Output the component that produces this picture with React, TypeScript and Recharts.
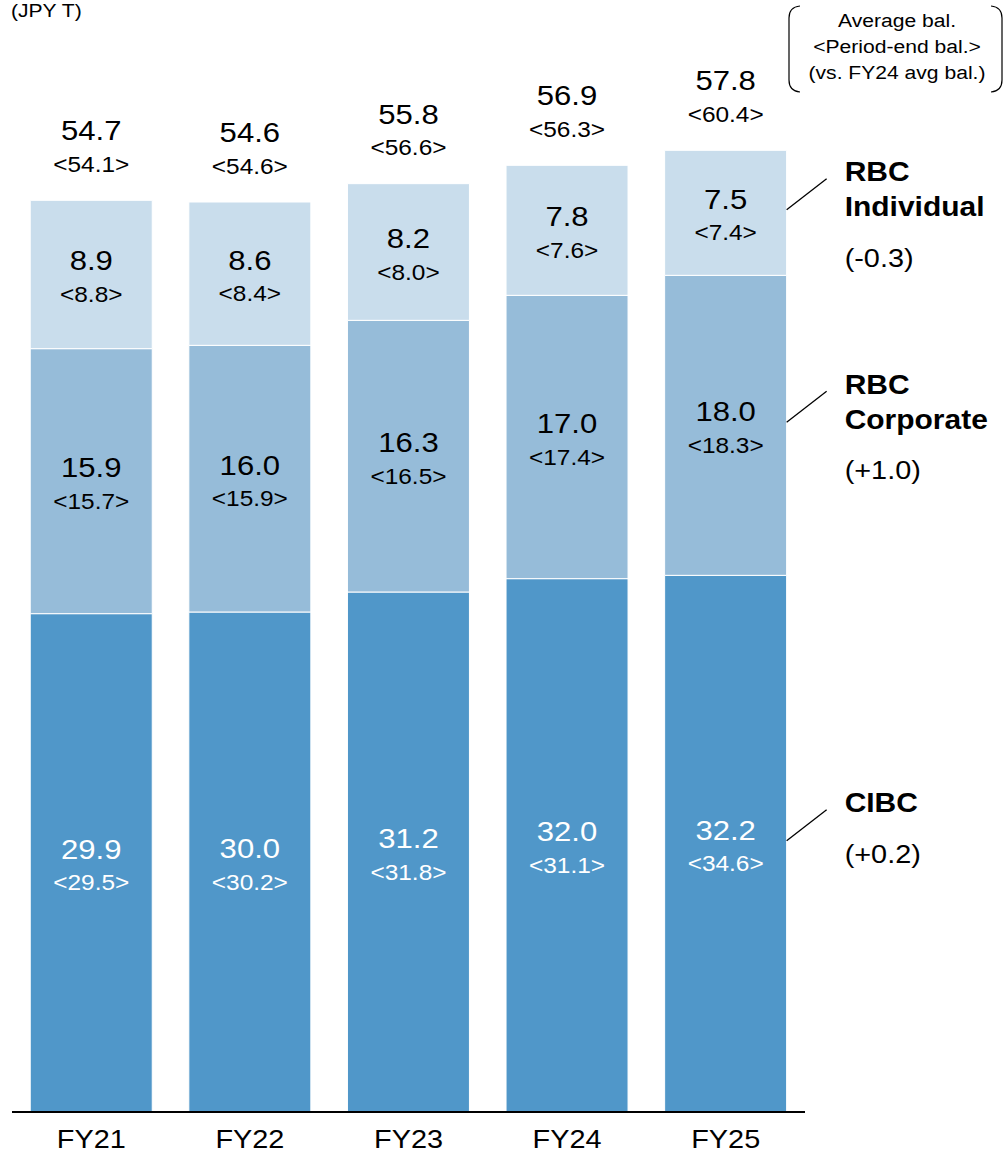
import React from 'react';
import { BarChart, Bar, XAxis, YAxis, LabelList } from 'recharts';

const categories = ['FY21', 'FY22', 'FY23', 'FY24', 'FY25'];
const cibcAvg = [29.9, 30.0, 31.2, 32.0, 32.2];
const cibcEnd = [29.5, 30.2, 31.8, 31.1, 34.6];
const corpAvg = [15.9, 16.0, 16.3, 17.0, 18.0];
const corpEnd = [15.7, 15.9, 16.5, 17.4, 18.3];
const indAvg = [8.9, 8.6, 8.2, 7.8, 7.5];
const indEnd = [8.8, 8.4, 8.0, 7.6, 7.4];
const totalAvg = [54.7, 54.6, 55.8, 56.9, 57.8];
const totalEnd = [54.1, 54.6, 56.6, 56.3, 60.4];
const seriesNames = { cibc: ['CIBC'], corp: ['RBC', 'Corporate'], ind: ['RBC', 'Individual'] };
const seriesChange = { cibc: '(+0.2)', corp: '(+1.0)', ind: '(-0.3)' };
const unitLabel = '(JPY T)';
const boxLines = ['Average bal.', '<Period-end bal.>', '(vs. FY24 avg bal.)'];

const data = categories.map((c, i) => ({
  name: c,
  cibc: cibcAvg[i],
  corp: corpAvg[i],
  ind: indAvg[i],
  total: totalAvg[i],
}));

const FONT = '"Liberation Sans", Arial, sans-serif';
const COLORS = { cibc: '#5097C9', corp: '#96BCD9', ind: '#C9DDEC' };
const LAST = categories.length - 1;
const SX = 1.11;

const T = (p: any) => {
  const { x, y, size, color = '#000', anchor = 'middle', bold = false, children } = p;
  return (
    <text
      transform={`translate(${x} ${y}) scale(${SX} 1)`}
      x={0}
      y={0}
      textAnchor={anchor}
      dominantBaseline="central"
      fontSize={size}
      fontWeight={bold ? 'bold' : 'normal'}
      fill={color}
      fontFamily={FONT}
    >
      {children}
    </text>
  );
};

const segLabel = (ends: number[], color: string) => (props: any) => {
  const { x, y, width, height, value, index } = props;
  const cx = Number(x) + Number(width) / 2;
  const cy = Number(y) + Number(height) / 2;
  return (
    <g>
      <T x={cx} y={cy - 14} size={28} color={color}>{Number(value).toFixed(1)}</T>
      <T x={cx} y={cy + 20} size={22} color={color}>{`<${ends[index].toFixed(1)}>`}</T>
    </g>
  );
};

const totalLabel = (props: any) => {
  const { x, y, width, value, index } = props;
  const cx = Number(x) + Number(width) / 2;
  const top = Number(y);
  return (
    <g>
      <T x={cx} y={top - 70} size={28}>{Number(value).toFixed(1)}</T>
      <T x={cx} y={top - 36} size={22}>{`<${totalEnd[index].toFixed(1)}>`}</T>
    </g>
  );
};

const seriesAnno = (key: 'cibc' | 'corp' | 'ind') => (props: any) => {
  const { x, y, width, height, index } = props;
  if (index !== LAST) return null;
  const x0 = Number(x) + Number(width);
  const y0 = Number(y) + Number(height) / 2 - 3;
  const x1 = x0 + 40;
  const y1 = y0 - 31;
  const tx = x1 + 18;
  const names = seriesNames[key];
  return (
    <g>
      <line x1={x0} y1={y0} x2={x1} y2={y1} stroke="#000" strokeWidth={1.3} />
      {names.map((n, i) => (
        <T key={i} x={tx} y={y1 - 7 + i * 35} size={27} bold anchor="start">{n}</T>
      ))}
      <T x={tx} y={y1 - 7 + (names.length - 1) * 35 + 51} size={26} anchor="start">{seriesChange[key]}</T>
    </g>
  );
};

const Tick = (props: any) => {
  const { x, y, payload } = props;
  return <T x={x} y={Number(y) + 25} size={26}>{payload.value}</T>;
};

export default function App() {
  return (
    <div style={{ position: 'absolute', left: 0, top: 0, width: 1005, height: 1154, background: '#fff' }}>
      <BarChart
        width={1005}
        height={1154}
        data={data}
        margin={{ top: 112, right: 200, bottom: 12, left: 12 }}
        barCategoryGap="11.5%"
      >
        <XAxis
          dataKey="name"
          tick={<Tick />}
          tickLine={false}
          tickSize={0}
          height={30}
          axisLine={{ stroke: '#000', strokeWidth: 2 }}
        />
        <YAxis hide domain={[0, 60]} />
        <Bar dataKey="cibc" stackId="a" fill={COLORS.cibc} stroke="#fff" strokeWidth={1} isAnimationActive={false}>
          <LabelList dataKey="cibc" content={segLabel(cibcEnd, '#fff')} />
          <LabelList dataKey="cibc" content={seriesAnno('cibc')} />
        </Bar>
        <Bar dataKey="corp" stackId="a" fill={COLORS.corp} stroke="#fff" strokeWidth={1} isAnimationActive={false}>
          <LabelList dataKey="corp" content={segLabel(corpEnd, '#000')} />
          <LabelList dataKey="corp" content={seriesAnno('corp')} />
        </Bar>
        <Bar dataKey="ind" stackId="a" fill={COLORS.ind} stroke="#fff" strokeWidth={1} isAnimationActive={false}>
          <LabelList dataKey="ind" content={segLabel(indEnd, '#000')} />
          <LabelList dataKey="ind" content={seriesAnno('ind')} />
          <LabelList dataKey="total" content={totalLabel} />
        </Bar>
      </BarChart>
      <svg width={1005} height={100} style={{ position: 'absolute', left: 0, top: 0 }}>
        <text transform={`translate(11 17) scale(${SX} 1)`} x={0} y={0} fontSize={19} fill="#000" fontFamily={FONT}>{unitLabel}</text>
        <path d="M 800 6 Q 789 7 789 18 L 789 80 Q 789 91 800 92" fill="none" stroke="#000" strokeWidth={1.2} />
        <path d="M 991 6 Q 1002 7 1002 18 L 1002 80 Q 1002 91 991 92" fill="none" stroke="#000" strokeWidth={1.2} />
        {boxLines.map((l, i) => (
          <T key={i} x={897} y={20 + i * 26} size={19}>{l}</T>
        ))}
      </svg>
    </div>
  );
}
